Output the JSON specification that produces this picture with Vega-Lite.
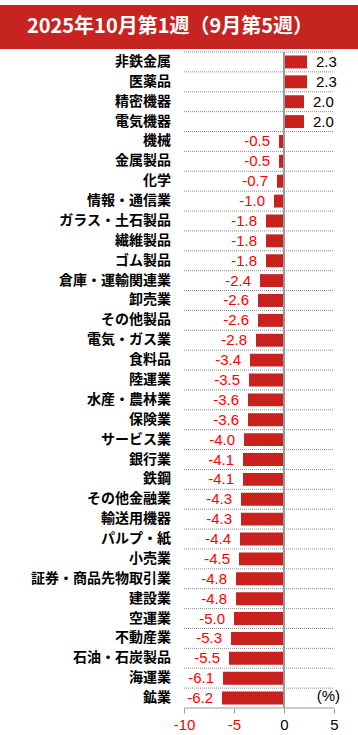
{
  "$schema": "https://vega.github.io/schema/vega-lite/v6.json",
  "padding": {"top": 5, "left": 0, "right": 0, "bottom": 0},
  "spacing": 2,
  "background": "white",
  "config": {"view": {"stroke": null}},
  "vconcat": [
    {
      "width": 358,
      "height": 44,
      "view": {"fill": "#C62420", "stroke": null},
      "data": {"values": [{"t": "2025年10月第1週（9月第5週）"}]},
      "mark": {"type": "text", "font": "Noto Sans CJK JP", "fontWeight": "bold", "fontSize": 20, "color": "white", "baseline": "middle", "dx": -9},
      "encoding": {"text": {"field": "t"}}
    },
    {
      "width": 358,
      "height": 656,
      "data": {"values": [
        {"name": "非鉄金属", "v": 2.3, "label": "2.3"},
        {"name": "医薬品", "v": 2.3, "label": "2.3"},
        {"name": "精密機器", "v": 2.0, "label": "2.0"},
        {"name": "電気機器", "v": 2.0, "label": "2.0"},
        {"name": "機械", "v": -0.5, "label": "-0.5"},
        {"name": "金属製品", "v": -0.5, "label": "-0.5"},
        {"name": "化学", "v": -0.7, "label": "-0.7"},
        {"name": "情報・通信業", "v": -1.0, "label": "-1.0"},
        {"name": "ガラス・土石製品", "v": -1.8, "label": "-1.8"},
        {"name": "繊維製品", "v": -1.8, "label": "-1.8"},
        {"name": "ゴム製品", "v": -1.8, "label": "-1.8"},
        {"name": "倉庫・運輸関連業", "v": -2.4, "label": "-2.4"},
        {"name": "卸売業", "v": -2.6, "label": "-2.6"},
        {"name": "その他製品", "v": -2.6, "label": "-2.6"},
        {"name": "電気・ガス業", "v": -2.8, "label": "-2.8"},
        {"name": "食料品", "v": -3.4, "label": "-3.4"},
        {"name": "陸運業", "v": -3.5, "label": "-3.5"},
        {"name": "水産・農林業", "v": -3.6, "label": "-3.6"},
        {"name": "保険業", "v": -3.6, "label": "-3.6"},
        {"name": "サービス業", "v": -4.0, "label": "-4.0"},
        {"name": "銀行業", "v": -4.1, "label": "-4.1"},
        {"name": "鉄鋼", "v": -4.1, "label": "-4.1"},
        {"name": "その他金融業", "v": -4.3, "label": "-4.3"},
        {"name": "輸送用機器", "v": -4.3, "label": "-4.3"},
        {"name": "パルプ・紙", "v": -4.4, "label": "-4.4"},
        {"name": "小売業", "v": -4.5, "label": "-4.5"},
        {"name": "証券・商品先物取引業", "v": -4.8, "label": "-4.8"},
        {"name": "建設業", "v": -4.8, "label": "-4.8"},
        {"name": "空運業", "v": -5.0, "label": "-5.0"},
        {"name": "不動産業", "v": -5.3, "label": "-5.3"},
        {"name": "石油・石炭製品", "v": -5.5, "label": "-5.5"},
        {"name": "海運業", "v": -6.1, "label": "-6.1"},
        {"name": "鉱業", "v": -6.2, "label": "-6.2"}
      ]},
      "layer": [
        {
          "mark": {"type": "rule", "color": "#8c8c8c", "strokeDash": [1, 1], "strokeWidth": 1},
          "encoding": {
            "y": {"field": "name", "type": "nominal", "sort": null, "bandPosition": 0,
              "scale": {"paddingInner": 0, "paddingOuter": 0}, "axis": null},
            "x": {"datum": -10, "type": "quantitative",
              "scale": {"domain": [-28.4, 7.4], "nice": false, "zero": false},
              "axis": {"title": null, "values": [-10, -5, 0, 5], "grid": false, "domain": false,
                "tickColor": "#999", "tickSize": 5, "labelFontSize": 15, "labelFont": "Liberation Sans",
                "labelFlush": false, "labelPadding": 4, "labelExpr": "'' + datum.value",
                "labelColor": {"condition": {"test": "datum.value < 0", "value": "#FF0000"}, "value": "black"}}},
            "x2": {"datum": 5}
          }
        },
        {
          "mark": {"type": "bar", "color": "#C8211E", "height": {"band": 0.65}},
          "encoding": {
            "y": {"field": "name", "type": "nominal", "sort": null},
            "x": {"field": "v", "type": "quantitative"},
            "x2": {"datum": 0}
          }
        },
        {
          "mark": {"type": "rule", "color": "#999", "strokeWidth": 1},
          "encoding": {"x": {"datum": 0, "type": "quantitative"}}
        },
        {
          "data": {"values": [{"u": "axis"}]},
          "mark": {"type": "rule", "color": "#999", "strokeWidth": 1},
          "encoding": {
            "x": {"datum": -10, "type": "quantitative"},
            "x2": {"datum": 5},
            "y": {"datum": "鉱業", "type": "nominal", "bandPosition": 1}
          }
        },
        {
          "mark": {"type": "text", "align": "right", "baseline": "middle", "dx": -13, "font": "Noto Sans CJK JP", "fontWeight": "bold", "fontSize": 14, "color": "black"},
          "encoding": {
            "y": {"field": "name", "type": "nominal", "sort": null},
            "x": {"datum": -10, "type": "quantitative"},
            "text": {"field": "name"}
          }
        },
        {
          "transform": [{"filter": "datum.v > 0"}],
          "mark": {"type": "text", "align": "left", "baseline": "middle", "dx": 9, "font": "Liberation Sans", "fontSize": 15, "color": "black"},
          "encoding": {
            "y": {"field": "name", "type": "nominal", "sort": null},
            "x": {"field": "v", "type": "quantitative"},
            "text": {"field": "label"}
          }
        },
        {
          "transform": [{"filter": "datum.v < 0"}],
          "mark": {"type": "text", "align": "right", "baseline": "middle", "dx": -9, "font": "Liberation Sans", "fontSize": 15, "color": "#FF0000"},
          "encoding": {
            "y": {"field": "name", "type": "nominal", "sort": null},
            "x": {"field": "v", "type": "quantitative"},
            "text": {"field": "label"}
          }
        },
        {
          "data": {"values": [{"u": "(%)"}]},
          "mark": {"type": "text", "align": "right", "baseline": "middle", "dx": 6, "dy": -2, "font": "Liberation Sans", "fontSize": 15, "color": "black"},
          "encoding": {
            "x": {"datum": 5, "type": "quantitative"},
            "y": {"datum": "鉱業", "type": "nominal"},
            "text": {"field": "u"}
          }
        }
      ]
    }
  ]
}
